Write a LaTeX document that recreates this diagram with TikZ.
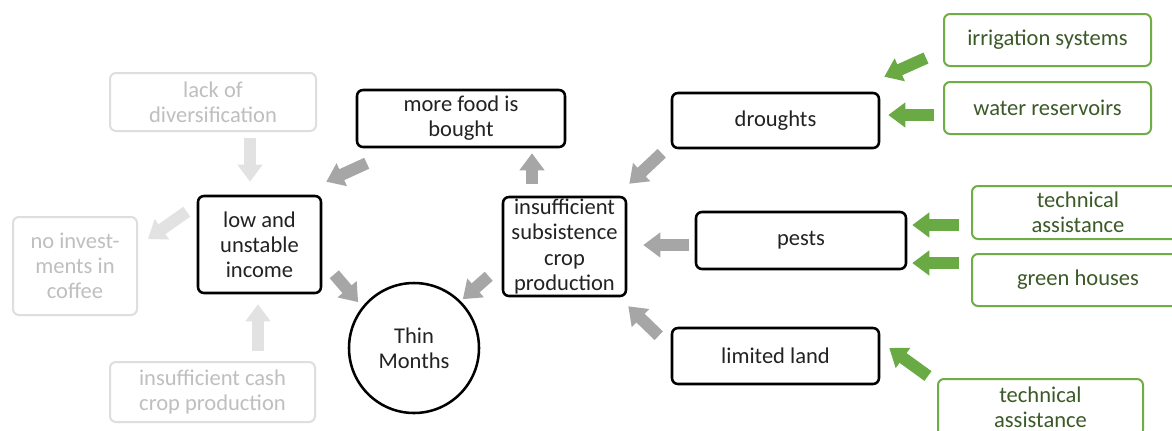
\documentclass[tikz,border=0pt]{standalone}
\usepackage{fontspec}
\setmainfont{Carlito}
\usetikzlibrary{arrows.meta}
\definecolor{txt}{HTML}{222222}
\definecolor{ltxt}{HTML}{BFBFBF}
\definecolor{lbrd}{HTML}{DEDEDE}
\definecolor{gbrd}{HTML}{70AD47}
\definecolor{gtxt}{HTML}{3B5A28}
\definecolor{garr}{HTML}{A6A6A6}
\definecolor{larr}{HTML}{E2E2E2}
\definecolor{grarr}{HTML}{6AAA45}
\tikzset{
  every node/.style={font=\fontsize{16.9pt}{18.8pt}\selectfont, align=center, inner sep=0pt},
  bbox/.style={draw=black, line width=1.9pt, rounded corners=4.5pt, text=txt},
  lbox/.style={draw=lbrd, line width=1.5pt, rounded corners=4.5pt, text=ltxt},
  gbox/.style={draw=gbrd, line width=1.5pt, rounded corners=4.5pt, text=gtxt},
  sz/.style 2 args={minimum width=#1*0.75pt, minimum height=#2*0.75pt},
  blockarrow/.style={line width=9pt, -{Triangle[length=12.75pt, width=18pt]}},
  grayarrow/.style={blockarrow, draw=garr, color=garr},
  lightarrow/.style={blockarrow, draw=larr, color=larr},
  greenarrow/.style={blockarrow, draw=grarr, color=grarr}
}
\begin{document}
\begin{tikzpicture}[x=0.75pt, y=-0.75pt]
\clip (0,0) rectangle (1172,430);
\fill[white] (0,0) rectangle (1172,430);
% light (faded) nodes
\node[lbox, sz={206}{58}] (lack) at (213,102) {lack of\\diversification};
\node[lbox, sz={124}{98}] (noinv) at (75,266) {no invest-\\ments in\\coffee};
\node[lbox, sz={205}{60}] (cash) at (212.5,392) {insufficient cash\\crop production};
% main nodes
\node[bbox, sz={123}{97}] (income) at (259.5,244.5) {low and\\unstable\\income};
\node[bbox, sz={208}{57}] (food) at (461,118.5) {more food is\\bought};
\node[bbox, sz={123}{99}] (subs) at (564.5,246.5) {insufficient\\subsistence\\crop\\production};
\node[draw=black, line width=1.9pt, circle, minimum size=97.5pt, text=txt] (thin) at (414,348) {Thin\\Months};
\node[bbox, sz={207}{55}] (drought) at (775.5,120.5) {droughts};
\node[bbox, sz={210}{57}] (pests) at (801,240.5) {pests};
\node[bbox, sz={207}{56}] (land) at (775.5,356) {limited land};
% green nodes
\node[gbox, sz={207}{52}] (irr) at (1047.5,40) {irrigation systems};
\node[gbox, sz={207}{52}] (water) at (1047.5,108) {water reservoirs};
\node[gbox, sz={212}{53}] (tech1) at (1078,212.5) {technical\\assistance};
\node[gbox, sz={212}{52}] (green) at (1078,280) {green houses};
\node[gbox, sz={205}{57}] (tech2) at (1040.5,407.5) {technical\\assistance};
% light arrows
\draw[lightarrow] ([shift={(37,6)}]lack.south) -- ([shift={(-9.5,-13)}]income.north);
\draw[lightarrow] ([shift={(-10,17)}]income.north west) -- ([shift={(10,23)}]noinv.north east);
\draw[lightarrow] ([shift={(45.5,-10)}]cash.north) -- ([shift={(-1.5,10)}]income.south);
% gray arrows
\draw[grayarrow] ([shift={(11,15)}]food.south west) -- ([shift={(4,-13)}]income.north east);
\draw[grayarrow] ([shift={(12,-20)}]income.south east) -- ([shift={(-9,1)}]thin.135);
\draw[grayarrow] ([shift={(-13,-21)}]subs.south west) -- ([shift={(2,-2)}]thin.45);
\draw[grayarrow] ([shift={(-32.5,-12)}]subs.north) -- ([shift={(71,5)}]food.south);
\draw[grayarrow] ([shift={(-9,4)}]drought.south west) -- ([shift={(2,-12)}]subs.north east);
\draw[grayarrow] ([shift={(-6,4.5)}]pests.west) -- ([shift={(16,-1.5)}]subs.east);
\draw[grayarrow] ([shift={(-12,9)}]land.north west) -- ([shift={(1,9)}]subs.south east);
% green arrows
\draw[greenarrow] ([shift={(-17,-9)}]irr.south west) -- ([shift={(4,-15)}]drought.north east);
\draw[greenarrow] ([shift={(-9,7)}]water.west) -- ([shift={(8,-5.5)}]drought.east);
\draw[greenarrow] ([shift={(-12,12.5)}]tech1.west) -- ([shift={(5,-15.5)}]pests.east);
\draw[greenarrow] ([shift={(-12,-17)}]green.west) -- ([shift={(5,22.5)}]pests.east);
\draw[greenarrow] ([shift={(-9,-2)}]tech2.north west) -- ([shift={(9,-8)}]land.east);
\end{tikzpicture}
\end{document}
